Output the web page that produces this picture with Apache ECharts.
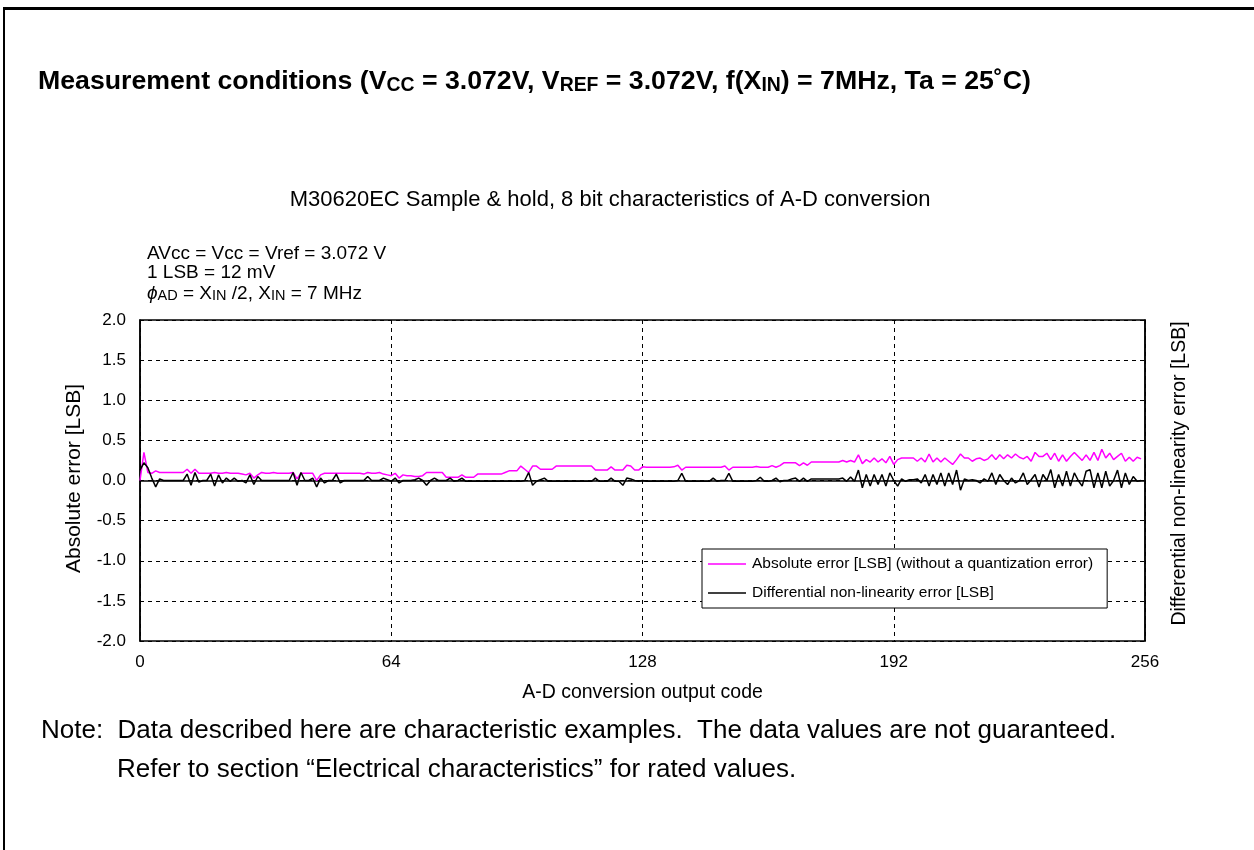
<!DOCTYPE html>
<html>
<head>
<meta charset="utf-8">
<script src="https://cdn.jsdelivr.net/npm/echarts@6/dist/echarts.min.js"></script>
<style>
  html, body { margin: 0; padding: 0; background: #fff; }
  #frame { position: absolute; left: 3px; top: 7px; width: 1251px; height: 843px;
           border-top: 3px solid #000; border-left: 2px solid #000; box-sizing: border-box; }
  #chart { position: absolute; left: 0; top: 0; width: 1254px; height: 850px; }
</style>
</head>
<body>
<div id="frame"></div>
<div id="chart"></div>
<script>
// ---- data ----
const xTicks = [0, 64, 128, 192, 256];
const yTicks = [-2.0, -1.5, -1.0, -0.5, 0.0, 0.5, 1.0, 1.5, 2.0];
const seriesNames = [
  'Absolute error [LSB] (without a quantization error)',
  'Differential non-linearity error [LSB]'
];
// Absolute error per output code 0..255
const absErr = [
  0.00, 0.35, 0.10, 0.09, 0.12, 0.10, 0.10, 0.10, 0.10, 0.10,
  0.10, 0.10, 0.14, 0.09, 0.14, 0.09, 0.09, 0.09, 0.09, 0.10,
  0.09, 0.09, 0.10, 0.09, 0.09, 0.09, 0.08, 0.07, 0.09, 0.03,
  0.07, 0.10, 0.09, 0.09, 0.10, 0.09, 0.09, 0.09, 0.09, 0.10,
  0.02, 0.09, 0.09, 0.09, 0.09, 0.00, 0.07, 0.09, 0.09, 0.09,
  0.09, 0.09, 0.09, 0.09, 0.09, 0.09, 0.09, 0.08, 0.10, 0.09,
  0.09, 0.10, 0.08, 0.07, 0.06, 0.09, 0.03, 0.07, 0.06, 0.06,
  0.05, 0.05, 0.06, 0.10, 0.10, 0.10, 0.10, 0.10, 0.04, 0.04,
  0.04, 0.04, 0.07, 0.04, 0.04, 0.04, 0.08, 0.08, 0.08, 0.08,
  0.08, 0.08, 0.08, 0.10, 0.12, 0.12, 0.12, 0.18, 0.14, 0.10,
  0.18, 0.18, 0.14, 0.14, 0.14, 0.14, 0.18, 0.18, 0.18, 0.18,
  0.18, 0.18, 0.18, 0.18, 0.18, 0.18, 0.13, 0.13, 0.13, 0.13,
  0.17, 0.13, 0.13, 0.13, 0.19, 0.18, 0.13, 0.13, 0.17, 0.165,
  0.165, 0.165, 0.165, 0.165, 0.165, 0.165, 0.17, 0.19, 0.13, 0.165,
  0.165, 0.165, 0.165, 0.165, 0.165, 0.165, 0.165, 0.165, 0.165, 0.18,
  0.13, 0.165, 0.165, 0.165, 0.165, 0.165, 0.165, 0.175, 0.165, 0.165,
  0.165, 0.185, 0.165, 0.185, 0.22, 0.22, 0.22, 0.22, 0.185, 0.22,
  0.19, 0.23, 0.23, 0.23, 0.23, 0.23, 0.23, 0.23, 0.23, 0.25,
  0.23, 0.25, 0.23, 0.32, 0.21, 0.26, 0.23, 0.28, 0.23, 0.27,
  0.22, 0.30, 0.20, 0.26, 0.28, 0.28, 0.28, 0.28, 0.24, 0.28,
  0.23, 0.33, 0.23, 0.28, 0.23, 0.28, 0.24, 0.20, 0.26, 0.33,
  0.28, 0.28, 0.24, 0.27, 0.28, 0.25, 0.27, 0.32, 0.26, 0.32,
  0.27, 0.32, 0.28, 0.33, 0.29, 0.27, 0.30, 0.24, 0.35, 0.30,
  0.30, 0.34, 0.26, 0.34, 0.24, 0.32, 0.24, 0.30, 0.35, 0.30,
  0.25, 0.32, 0.25, 0.35, 0.25, 0.39, 0.28, 0.34, 0.26, 0.30,
  0.34, 0.24, 0.29, 0.24, 0.29, 0.27
];
// Differential non-linearity error per output code 0..255
const dnlErr = [
  0.13, 0.22, 0.16, 0.03, -0.08, 0.02, 0.00, 0.00, 0.00, 0.00,
  0.00, 0.00, 0.08, -0.06, 0.10, -0.02, 0.00, 0.00, 0.08, -0.07,
  0.07, -0.03, 0.03, -0.01, 0.03, -0.01, 0.00, -0.03, 0.07, -0.05,
  0.05, 0.00, 0.00, 0.00, 0.00, 0.00, 0.00, 0.00, 0.00, 0.10,
  -0.06, 0.10, 0.00, 0.00, 0.03, -0.08, 0.03, -0.03, 0.00, 0.00,
  0.08, -0.03, 0.00, 0.00, 0.00, 0.00, 0.00, 0.00, 0.05, 0.00,
  0.00, 0.00, 0.03, 0.01, -0.01, 0.03, -0.03, 0.00, 0.00, 0.00,
  0.01, 0.03, 0.00, -0.06, 0.00, 0.03, 0.00, 0.00, 0.00, 0.03,
  -0.01, 0.00, 0.03, -0.01, -0.01, -0.01, -0.01, -0.01, -0.01, -0.01,
  -0.01, -0.01, -0.01, -0.01, -0.01, -0.01, -0.01, -0.01, 0.00, 0.10,
  -0.06, -0.01, 0.01, 0.03, -0.01, -0.01, -0.01, -0.01, -0.01, -0.01,
  -0.01, -0.01, -0.01, -0.01, -0.01, -0.01, 0.03, -0.01, -0.01, -0.01,
  0.03, -0.01, -0.01, -0.06, 0.03, 0.02, 0.00, -0.01, 0.00, -0.01,
  -0.01, -0.01, -0.01, -0.01, -0.01, -0.01, -0.01, 0.00, 0.09, -0.01,
  -0.01, -0.01, -0.01, -0.01, -0.01, -0.01, 0.03, -0.01, 0.00, 0.00,
  0.09, -0.01, -0.01, -0.01, -0.01, -0.01, -0.01, 0.00, 0.04, -0.01,
  -0.01, 0.00, 0.03, -0.015, 0.00, 0.00, 0.02, 0.03, -0.01, 0.03,
  -0.01, 0.02, 0.02, 0.02, 0.02, 0.02, 0.02, 0.02, 0.02, 0.03,
  -0.01, 0.045, -0.01, 0.13, -0.09, 0.075, -0.07, 0.075, -0.05, 0.075,
  -0.07, 0.095, 0.00, -0.07, 0.02, -0.01, 0.01, 0.01, 0.02, -0.03,
  0.075, -0.07, 0.075, -0.05, 0.095, -0.07, 0.095, -0.05, 0.13, -0.12,
  0.02, 0.00, 0.01, 0.00, -0.03, 0.02, -0.01, 0.095, -0.05, 0.075,
  0.00, -0.05, 0.03, -0.03, 0.00, 0.095, -0.05, 0.01, 0.075, -0.08,
  0.075, 0.00, 0.136, -0.09, 0.075, -0.07, 0.115, -0.07, 0.095, 0.00,
  -0.07, 0.115, 0.136, -0.09, 0.095, -0.09, 0.115, -0.07, 0.00, 0.13,
  -0.09, 0.095, -0.05, 0.05, -0.01, 0.00
];

// ---- build ----
const FONT = '"Liberation Sans", Arial, sans-serif';
const toPairs = arr => arr.map((v, i) => [i, v]);

const chart = echarts.init(document.getElementById('chart'), null, { renderer: 'canvas' });

const dashed = { show: true, lineStyle: { color: '#000', width: 1, type: [4, 4] } };

chart.setOption({
  animation: false,
  backgroundColor: 'transparent',
  textStyle: { fontFamily: FONT, color: '#000' },
  grid: { left: 140, top: 320, width: 1005, height: 321, show: true,
          borderColor: '#000', borderWidth: 1.5, backgroundColor: 'transparent' },
  xAxis: {
    type: 'value', min: xTicks[0], max: xTicks[xTicks.length - 1], interval: 64,
    axisLine: { show: true, lineStyle: { color: '#000', width: 1.5 } },
    axisTick: { show: false },
    splitLine: dashed,
    axisLabel: { fontSize: 17, color: '#000', fontFamily: FONT, margin: 13,
                 formatter: v => xTicks.includes(v) ? String(v) : '' },
    name: 'A-D conversion output code', nameLocation: 'middle', nameGap: 42,
    nameTextStyle: { fontSize: 19.5, color: '#000', fontFamily: FONT }
  },
  yAxis: [{
    type: 'value', min: yTicks[0], max: yTicks[yTicks.length - 1], interval: 0.5,
    axisLine: { show: true, lineStyle: { color: '#000', width: 1.5 } },
    axisTick: { show: false },
    splitLine: dashed,
    axisLabel: { fontSize: 17, color: '#000', fontFamily: FONT, margin: 14,
                 formatter: v => v.toFixed(1) },
    name: 'Absolute error [LSB]', nameLocation: 'middle', nameRotate: 90, nameGap: 55,
    nameTextStyle: { fontSize: 21, color: '#000', fontFamily: FONT, padding: [0, 0, 0, 4] }
  }, {
    type: 'value', position: 'right', min: yTicks[0], max: yTicks[yTicks.length - 1], interval: 0.5,
    axisLine: { show: true, lineStyle: { color: '#000', width: 1.5 } },
    axisTick: { show: false }, axisLabel: { show: false }, splitLine: { show: false },
    name: 'Differential non-linearity error [LSB]', nameLocation: 'middle', nameRotate: 90, nameGap: 25,
    nameTextStyle: { fontSize: 19.5, color: '#000', fontFamily: FONT, padding: [0, 0, 0, 14] }
  }],
  legend: {
    left: 702, top: 549, orient: 'vertical',
    backgroundColor: '#fff', borderColor: '#000', borderWidth: 1,
    padding: [6, 14, 6, 6], itemGap: 11, itemWidth: 38, itemHeight: 1.5,
    icon: 'rect',
    textStyle: { fontSize: 15.5, color: '#000', fontFamily: FONT, lineHeight: 18, padding: [0, 0, 0, 1] },
    data: seriesNames
  },
  series: [{
    name: seriesNames[0], type: 'line', data: toPairs(absErr), yAxisIndex: 0,
    showSymbol: false, symbol: 'none', color: '#FF00FF',
    lineStyle: { color: '#FF00FF', width: 1.5 }, itemStyle: { color: '#FF00FF' }, z: 2
  }, {
    name: seriesNames[1], type: 'line', data: toPairs(dnlErr), yAxisIndex: 0,
    showSymbol: false, symbol: 'none', color: '#000',
    lineStyle: { color: '#000', width: 1.5 }, itemStyle: { color: '#000' }, z: 3
  }],
  graphic: [
    { type: 'text', x: 38, y: 80, style: {
        text: '{b|Measurement conditions (V}{s|CC}{b| = 3.072V, V}{s|REF}{b| = 3.072V, f(X}{s|IN}{b|) = 7MHz, Ta = 25˚C)}',
        verticalAlign: 'middle',
        rich: {
          b: { fontSize: 26.7, fontWeight: 'bold', fontFamily: FONT, fill: '#000', verticalAlign: 'bottom', lineHeight: 31 },
          s: { fontSize: 19.4, fontWeight: 'bold', fontFamily: FONT, fill: '#000', verticalAlign: 'bottom', lineHeight: 31 }
        } } },
    { type: 'text', x: 610, y: 200, style: {
        text: 'M30620EC Sample & hold, 8 bit characteristics of A-D conversion',
        fontSize: 22, fontFamily: FONT, fill: '#000', align: 'center', verticalAlign: 'middle' } },
    { type: 'text', x: 147, y: 254, style: {
        text: 'AVcc = Vcc = Vref = 3.072 V', fontSize: 19, fontFamily: FONT, fill: '#000', verticalAlign: 'middle' } },
    { type: 'text', x: 147, y: 273, style: {
        text: '1 LSB = 12 mV', fontSize: 19, fontFamily: FONT, fill: '#000', verticalAlign: 'middle' } },
    { type: 'text', x: 147, y: 292, style: {
        text: '{i|ϕ}{s|AD}{n| = X}{s|IN}{n| /2, X}{s|IN}{n| = 7 MHz}', verticalAlign: 'middle',
        rich: {
          n: { fontSize: 19, fontFamily: FONT, fill: '#000', verticalAlign: 'bottom', lineHeight: 22 },
          i: { fontSize: 19, fontStyle: 'italic', fontFamily: FONT, fill: '#000', verticalAlign: 'bottom', lineHeight: 22 },
          s: { fontSize: 14.5, fontFamily: FONT, fill: '#000', verticalAlign: 'bottom', lineHeight: 22 }
        } } },
    { type: 'text', x: 41, y: 731, style: {
        text: 'Note:  Data described here are characteristic examples.  The data values are not guaranteed.',
        fontSize: 26, fontFamily: FONT, fill: '#000', verticalAlign: 'middle' } },
    { type: 'text', x: 117, y: 770, style: {
        text: 'Refer to section \u201cElectrical characteristics\u201d for rated values.',
        fontSize: 26, fontFamily: FONT, fill: '#000', verticalAlign: 'middle' } }
  ]
});
</script>
</body>
</html>
